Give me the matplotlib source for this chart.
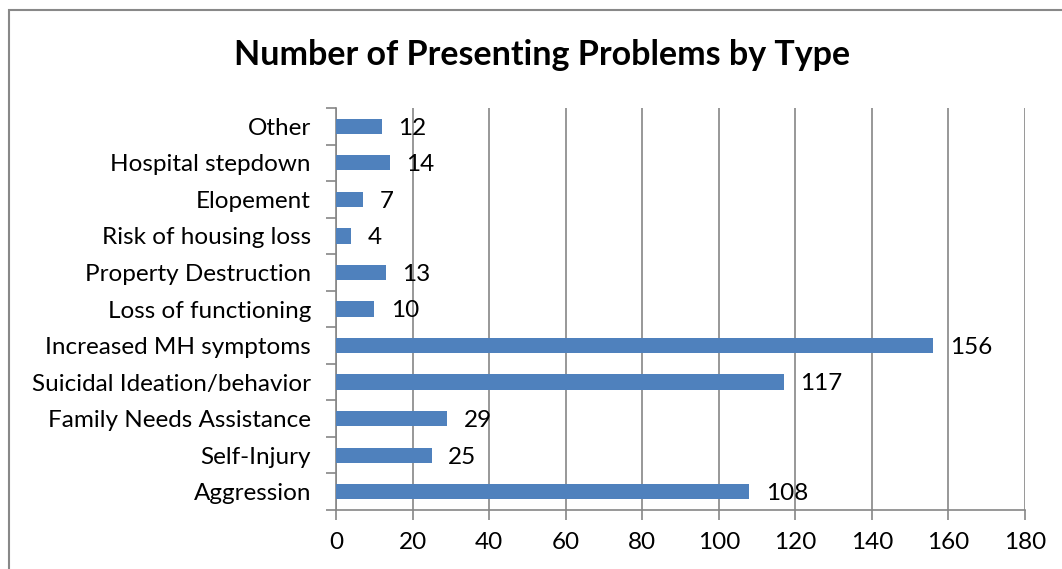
import matplotlib
matplotlib.use("Agg")
import matplotlib.pyplot as plt
from matplotlib.patches import Rectangle
from matplotlib.ticker import FixedLocator

plt.rcParams['font.family'] = ['Lato', 'DejaVu Sans']

categories = ["Aggression", "Self-Injury", "Family Needs Assistance",
              "Suicidal Ideation/behavior", "Increased MH symptoms",
              "Loss of functioning", "Property Destruction",
              "Risk of housing loss", "Elopement", "Hospital stepdown", "Other"]
counts = [108, 25, 29, 117, 156, 10, 13, 4, 7, 14, 12]
xticks = [0, 20, 40, 60, 80, 100, 120, 140, 160, 180]

GRID = "#868686"
BAR = "#4F81BD"
FS = 17.5

fig = plt.figure(figsize=(10.62, 5.69), dpi=100)
ax = fig.add_axes([336 / 1062, 1 - 510 / 569, (1025 - 336) / 1062, (510 - 108) / 569])

ypos = list(range(len(categories)))
ax.barh(ypos, counts, height=0.42, color=BAR, zorder=3)
for y, v in zip(ypos, counts):
    ax.text(v + 4.3, y - 0.05, str(v), va="center", ha="left", fontsize=FS, zorder=4)

ax.set_xlim(0, 180)
ax.set_ylim(-0.5, len(categories) - 0.5)
ax.xaxis.set_major_locator(FixedLocator(xticks))
ax.set_yticks(ypos)
ax.set_yticklabels(categories)
ax.yaxis.set_minor_locator(FixedLocator([i - 0.5 for i in range(len(categories) + 1)]))
ax.tick_params(axis="y", which="major", length=0, pad=18, labelsize=FS)
ax.tick_params(axis="y", which="minor", length=7, color=GRID, width=1.2)
ax.tick_params(axis="x", which="major", length=7, color=GRID, width=1.2, pad=9, labelsize=FS)
ax.grid(True, axis="x", color=GRID, linewidth=1.2, zorder=0)

for side in ["top", "right"]:
    ax.spines[side].set_visible(False)
for side in ["left", "bottom"]:
    ax.spines[side].set_color(GRID)
    ax.spines[side].set_linewidth(1.2)

fig.text(542 / 1062, 1 - 55 / 569, "Number of Presenting Problems by Type",
         ha="center", va="center", fontsize=24.5, fontweight="bold")

fig.patches.append(Rectangle((9 / 1062, -0.2), 1.2, 1.2 - 10 / 569,
                             transform=fig.transFigure, fill=False,
                             edgecolor="#888888", linewidth=1.5))

fig.savefig("out.png", dpi=100)
